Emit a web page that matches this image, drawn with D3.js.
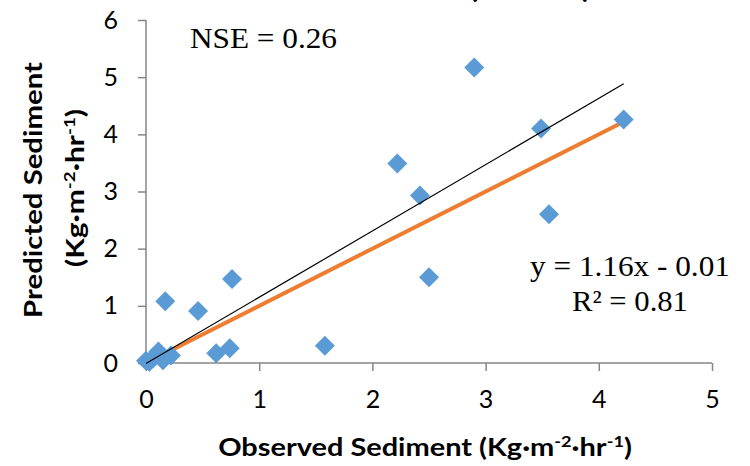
<!DOCTYPE html>
<html>
<head>
<meta charset="utf-8">
<title>Observed vs predicted sediment</title>
<script src="https://d3js.org/d3.v7.min.js"></script>
<style>
  body { margin: 0; background: #fff; }
  .tick text { font-family: Lato, "Open Sans", sans-serif; font-size: 25px; fill: #000; }
  .axis-title { font-family: Lato, "Open Sans", sans-serif; font-weight: bold; font-size: 24px; fill: #000; }
  .note { font-family: "Liberation Serif", "DejaVu Serif", serif; font-size: 30px; fill: #000; }
</style>
</head>
<body>
<div id="chart"></div>
<script>
// observed vs predicted sediment (Kg m-2 hr-1)
var observed  = [0.00, 0.03, 0.06, 0.11, 0.15, 0.22, 0.17, 0.46, 0.62, 0.74, 0.76, 1.58, 2.22, 2.42, 2.50, 2.90, 3.49, 3.56, 4.22];
var predicted = [0.04, 0.02, 0.08, 0.20, 0.05, 0.13, 1.08, 0.91, 0.17, 0.26, 1.47, 0.30, 3.49, 2.93, 1.50, 5.17, 4.10, 2.60, 4.26];
var xTicks = [0, 1, 2, 3, 4, 5];
var yTicks = [0, 1, 2, 3, 4, 5, 6];
// trend line y = 1.16x - 0.01 and the 1:1 line
var trendSlope = 1.16, trendIntercept = -0.01;
var oneToOne = [0, 4.22];

var width = 750, height = 466;
var svg = d3.select("#chart").append("svg")
  .attr("width", width)
  .attr("height", height);

var x = d3.scaleLinear().domain([0, 5]).range([146, 712]);
var y = d3.scaleLinear().domain([0, 6]).range([363, 20]);

// stretch a text along its baseline so it spans w pixels (anchor at cx)
function stretch(t, cx, w) {
  var bw = t.node().getBBox().width;
  var k = w / bw;
  t.attr("transform", "translate(" + cx + ",0) scale(" + k + ",1) translate(" + (-cx) + ",0)");
}

// axes
var gx = svg.append("g")
  .attr("transform", "translate(0," + y(0) + ")")
  .call(d3.axisBottom(x).tickValues(xTicks).tickSize(8).tickPadding(14).tickFormat(d3.format("d")));
var gy = svg.append("g")
  .attr("transform", "translate(" + x(0) + ",0)")
  .call(d3.axisLeft(y).tickValues(yTicks).tickSize(8).tickPadding(20).tickFormat(d3.format("d")));
svg.selectAll(".domain").attr("stroke", "#868686").attr("stroke-width", 1.5);
gx.select(".domain").attr("d", "M" + x(0) + ",0H" + x(5));
gy.select(".domain").attr("d", "M0," + y(6) + "V" + y(0));
svg.selectAll(".tick line").attr("stroke", "#868686").attr("stroke-width", 1.5);
gx.selectAll(".tick text").attr("dy", "0.9em");

// 1:1 line (orange)
svg.append("line")
  .attr("x1", x(oneToOne[0])).attr("y1", y(oneToOne[0]))
  .attr("x2", x(oneToOne[1])).attr("y2", y(oneToOne[1]))
  .attr("stroke", "#ED7D31").attr("stroke-width", 4);

// points
svg.append("g").selectAll("path")
  .data(observed)
  .enter().append("path")
  .attr("d", d3.symbol().type(d3.symbolSquare).size(200))
  .attr("transform", function(d, i) {
    return "translate(" + x(d) + "," + y(predicted[i]) + ") rotate(45)";
  })
  .attr("fill", "#5B9BD5");

// trend line (black)
var xMax = d3.max(observed);
svg.append("line")
  .attr("x1", x(0)).attr("y1", y(trendIntercept))
  .attr("x2", x(xMax)).attr("y2", y(trendSlope * xMax + trendIntercept))
  .attr("stroke", "#000").attr("stroke-width", 1.2);

// annotations
var nse = svg.append("text").attr("class", "note").attr("x", 190).attr("y", 48).text("NSE = 0.26");
stretch(nse, 190, 147);
var eq = svg.append("text").attr("class", "note").attr("x", 630).attr("y", 276)
  .attr("text-anchor", "middle").text("y = 1.16x - 0.01");
stretch(eq, 630, 200);
var r2 = svg.append("text").attr("class", "note").attr("x", 630).attr("y", 311)
  .attr("text-anchor", "middle").text("R² = 0.81");
stretch(r2, 630, 116);

// chart title (cut off at the top of the picture)
var title = svg.append("text").attr("class", "axis-title")
  .attr("x", 530).attr("y", -2).attr("text-anchor", "middle")
  .style("font-size", "26px")
  .text("(Overall)");
stretch(title, 530, 122);

// axis titles
var xt = svg.append("text").attr("class", "axis-title")
  .attr("x", 425).attr("y", 456).attr("text-anchor", "middle");
xt.append("tspan").text("Observed Sediment (Kg·m");
xt.append("tspan").attr("dy", -9).style("font-size", "15px").text("-2");
xt.append("tspan").attr("dy", 9).text("·hr");
xt.append("tspan").attr("dy", -9).style("font-size", "15px").text("-1");
xt.append("tspan").attr("dy", 9).text(")");
stretch(xt, 425, 414);

var yt = svg.append("g").attr("transform", "translate(0,190) rotate(-90)");
var yt1 = yt.append("text").attr("class", "axis-title")
  .attr("x", 0).attr("y", 42).attr("text-anchor", "middle")
  .text("Predicted Sediment");
stretch(yt1, 0, 256);
var yt2 = yt.append("text").attr("class", "axis-title")
  .attr("x", 2).attr("y", 84).attr("text-anchor", "middle");
yt2.append("tspan").text("(Kg·m");
yt2.append("tspan").attr("dy", -9).style("font-size", "15px").text("-2");
yt2.append("tspan").attr("dy", 9).text("·hr");
yt2.append("tspan").attr("dy", -9).style("font-size", "15px").text("-1");
yt2.append("tspan").attr("dy", 9).text(")");
stretch(yt2, 2, 158);
</script>
</body>
</html>
